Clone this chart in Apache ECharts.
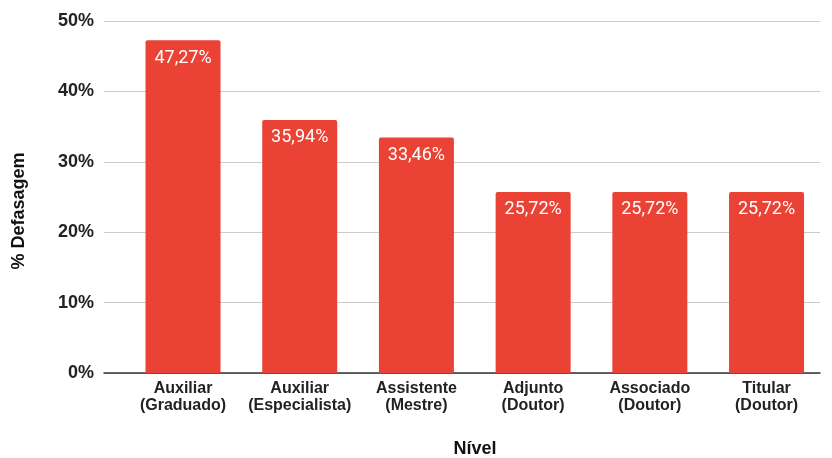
<!DOCTYPE html>
<html><head><meta charset="utf-8">
<script src="https://cdn.jsdelivr.net/npm/echarts@6/dist/echarts.min.js"></script>
<style>html,body{margin:0;padding:0;background:#fff}#c{width:832px;height:458px}</style>
</head><body><div id="c"></div>
<script>
const categories = ['Auxiliar\n(Graduado)', 'Auxiliar\n(Especialista)', 'Assistente\n(Mestre)', 'Adjunto\n(Doutor)', 'Associado\n(Doutor)', 'Titular\n(Doutor)'];
const values = [47.27, 35.94, 33.46, 25.72, 25.72, 25.72];
const yTicks = [0, 10, 20, 30, 40, 50];

const chart = echarts.init(document.getElementById('c'));
chart.setOption({
  animation: false,
  grid: { left: 104, right: 12, top: 21, bottom: 85, outerBoundsMode: 'none', containLabel: false },
  xAxis: {
    type: 'value', min: -0.677, max: 5.458,
    name: 'Nível', nameLocation: 'middle', nameGap: 67,
    nameTextStyle: { fontFamily: 'Liberation Sans', fontWeight: 'bold', fontSize: 18, color: '#111', padding: [0, 0, 0, 26] },
    axisLine: { show: true, onZero: false, lineStyle: { color: '#333', width: 1.5 } },
    axisTick: { show: false },
    splitLine: { show: false },
    axisLabel: {
      customValues: categories.map((c, i) => i),
      formatter: v => categories[Math.round(v)] || '',
      fontFamily: 'Liberation Sans', fontWeight: 'bold', fontSize: 16, color: '#222',
      lineHeight: 17, margin: 7
    }
  },
  yAxis: {
    type: 'value', min: 0, max: 50, interval: 10,
    name: '% Defasagem', nameLocation: 'middle', nameGap: 76, nameRotate: 90,
    nameTextStyle: { fontFamily: 'Liberation Sans', fontWeight: 'bold', fontSize: 18, color: '#111', padding: [0, 28, 0, 0] },
    axisLine: { show: false }, axisTick: { show: false },
    splitLine: { lineStyle: { color: '#cccccc', width: 1 } },
    axisLabel: {
      formatter: v => yTicks.includes(v) ? v + '%' : '',
      fontFamily: 'Liberation Sans', fontWeight: 'bold', fontSize: 18, color: '#222', margin: 10
    }
  },
  series: [{
    type: 'bar',
    data: values.map((v, i) => [i, v]),
    barWidth: 75,
    itemStyle: { color: '#EA4335', borderRadius: [2, 2, 0, 0] },
    label: {
      show: true, position: 'insideTop', distance: 9,
      formatter: p => p.value[1].toFixed(2).replace('.', ',') + '%',
      color: '#fff', fontFamily: 'Roboto', fontSize: 18
    }
  }]
});
</script></body></html>
